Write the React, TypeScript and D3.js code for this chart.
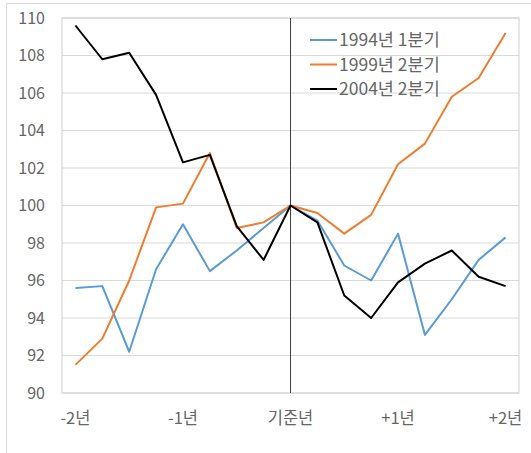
import React from 'react';
import * as d3 from 'd3';

const quarters = d3.range(17);
const tickLabels = ['-2년', '-1년', '기준년', '+1년', '+2년'];
const tickAt = [0, 4, 8, 12, 16];
const yTicks = [90, 92, 94, 96, 98, 100, 102, 104, 106, 108, 110];

const s1994 = [95.6, 95.7, 92.2, 96.6, 99.0, 96.5, 97.6, 98.8, 100, 99.2, 96.8, 96.0, 98.5, 93.1, 95.0, 97.1, 98.3];
const s1999 = [91.5, 92.9, 96.0, 99.9, 100.1, 102.8, 98.8, 99.1, 100, 99.6, 98.5, 99.5, 102.2, 103.3, 105.8, 106.8, 109.2];
const s2004 = [109.6, 107.8, 108.15, 105.9, 102.3, 102.7, 98.9, 97.1, 100, 99.1, 95.2, 94.0, 95.9, 96.9, 97.6, 96.2, 95.7];

const series = [
  { name: '1994년 1분기', values: s1994, color: '#5b9bd5' },
  { name: '1999년 2분기', values: s1999, color: '#ed7d31' },
  { name: '2004년 2분기', values: s2004, color: '#000000' },
];

const W = 531;
const H = 453;
const left = 62, right = 519, top = 18, bottom = 393;
const font = '"Noto Sans CJK KR", "Noto Sans", sans-serif';

const App = () => {
  const x = d3.scalePoint<number>().domain(quarters).range([left, right]).padding(0.5);
  const y = d3.scaleLinear().domain([90, 110]).range([bottom, top]);
  const line = d3.line<number>().x((d, i) => x(i) as number).y(d => y(d));

  return (
    <svg width={W} height={H} style={{ position: 'absolute', left: 0, top: 0 }}>
      <rect x={0} y={0} width={W} height={H} fill="#fff" />
      <rect x={6.5} y={3.5} width={W} height={H} fill="none" stroke="#d9d9d9" />
      {yTicks.map(t => (
        <g key={t}>
          <line x1={left} x2={right} y1={y(t)} y2={y(t)} stroke="#d9d9d9" />
          <text x={45} y={y(t)} dy="0.35em" textAnchor="end" fontSize={16} fill="#666" fontFamily={font}>{t}</text>
        </g>
      ))}
      <rect x={left} y={top} width={right - left} height={bottom - top} fill="none" stroke="#d0d0d0" />
      <line x1={x(8)} x2={x(8)} y1={top} y2={bottom} stroke="#404040" strokeWidth={1} />
      {tickAt.map((q, i) => (
        <text key={q} x={x(q)} y={418} dy="0.35em" textAnchor="middle" fontSize={16.5} fill="#666" fontFamily={font}>{tickLabels[i]}</text>
      ))}
      {series.map(s => (
        <path key={s.name} d={line(s.values) || ''} fill="none" stroke={s.color} strokeWidth={2} strokeLinejoin="round" />
      ))}
      {series.map((s, i) => (
        <g key={s.name} transform={`translate(310,${40 + i * 24.5})`}>
          <line x1={0} x2={27} y1={0} y2={0} stroke={s.color} strokeWidth={2} />
          <text x={29} y={0} dy="0.35em" fontSize={17.5} fill="#666" fontFamily={font}>{s.name}</text>
        </g>
      ))}
    </svg>
  );
};

export default App;
